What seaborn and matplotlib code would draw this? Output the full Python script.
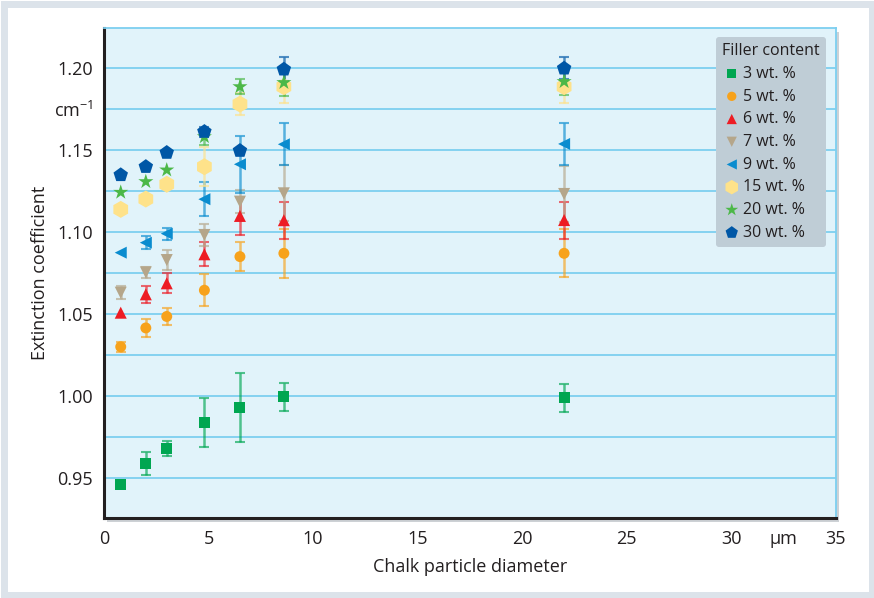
import matplotlib
matplotlib.use("Agg")
import matplotlib.pyplot as plt
from matplotlib import font_manager
from matplotlib.patches import Rectangle
import numpy as np
import pandas as pd
import seaborn as sns

# ---------------- data ----------------
diameter = [0.8, 2.0, 3.0, 4.8, 6.5, 8.6, 22.0]

series_labels = ["3 wt. %", "5 wt. %", "6 wt. %", "7 wt. %", "9 wt. %",
                 "15 wt. %", "20 wt. %", "30 wt. %"]

val_3 = [0.946, 0.959, 0.968, 0.984, 0.993, 0.9995, 0.999]
err_3 = [0.0, 0.007, 0.0045, 0.015, 0.021, 0.0085, 0.0085]
val_5 = [1.030, 1.0415, 1.0485, 1.0645, 1.085, 1.087, 1.087]
err_5 = [0.003, 0.0054, 0.005, 0.0098, 0.0087, 0.015, 0.0146]
val_6 = [1.0508, 1.062, 1.0687, 1.0864, 1.1098, 1.1072, 1.1073]
err_6 = [0.0, 0.005, 0.006, 0.0073, 0.0116, 0.0113, 0.0113]
val_7 = [1.063, 1.0754, 1.0829, 1.0982, 1.1185, 1.1236, 1.1232]
err_7 = [0.004, 0.0034, 0.006, 0.0067, 0.007, 0.017, 0.017]
val_9 = [1.0874, 1.0935, 1.099, 1.120, 1.1413, 1.1535, 1.1537]
err_9 = [0.0, 0.0039, 0.0037, 0.0103, 0.0174, 0.0128, 0.0126]
val_15 = [1.1138, 1.1201, 1.1291, 1.1398, 1.178, 1.1886, 1.1886]
err_15 = [0.0, 0.0, 0.0, 0.012, 0.0067, 0.0098, 0.0098]
val_20 = [1.1242, 1.1307, 1.1378, 1.1581, 1.1886, 1.1911, 1.1917]
err_20 = [0.0, 0.0, 0.0, 0.005, 0.0045, 0.008, 0.0083]
val_30 = [1.1348, 1.1398, 1.1484, 1.1612, 1.1496, 1.1992, 1.1998]
err_30 = [0.0, 0.0, 0.0, 0.003, 0.0, 0.0073, 0.0067]

x_ticks = [0, 5, 10, 15, 20, 25, 30, 32.5, 35]
x_ticklabels = ["0", "5", "10", "15", "20", "25", "30", "µm", "35"]
y_ticks = [0.95, 1.00, 1.05, 1.10, 1.15, 1.175, 1.20]
y_ticklabels = ["0.95", "1.00", "1.05", "1.10", "1.15", "cm$^{-1}$", "1.20"]
y_minor = [0.975, 1.025, 1.075, 1.125]

values = [val_3, val_5, val_6, val_7, val_9, val_15, val_20, val_30]
errors = [err_3, err_5, err_6, err_7, err_9, err_15, err_20, err_30]

colors = ["#00a651", "#f7a21b", "#ed1c24", "#b5a68a", "#0a8ccf",
          "#fee28a", "#4cb848", "#0057a6"]
markers = ["s", "o", "^", "v", "<", "h", "*", "p"]
msizes = [64, 62, 75, 75, 75, 150, 130, 120]

rows = []
for lab, vals, errs in zip(series_labels, values, errors):
    for d, v, e in zip(diameter, vals, errs):
        rows.append({"diameter": d, "value": v, "err": e, "series": lab})
df = pd.DataFrame(rows)

# ---------------- style ----------------
sns.set_theme(style="white")
avail = {f.name for f in font_manager.fontManager.ttflist}
fam = [f for f in ["Liberation Sans Narrow", "Open Sans", "DejaVu Sans"] if f in avail]
plt.rcParams["font.family"] = fam + ["DejaVu Sans"]
plt.rcParams["mathtext.fontset"] = "custom"
plt.rcParams["mathtext.rm"] = fam[0]

W, H = 874, 598
fig = plt.figure(figsize=(W / 100, H / 100), dpi=100)
fig.patch.set_facecolor("white")

# outer frame
fig.patches.append(Rectangle((3.5 / W, 3.5 / H), 1 - 5.5 / W, 1 - 7 / H,
                             transform=fig.transFigure, fill=False,
                             edgecolor="#dce3ea", linewidth=5.0, zorder=-2))

l, r, t, b = 104, 836, 28, 518
ax = fig.add_axes([l / W, 1 - b / H, (r - l) / W, (b - t) / H])
ax.set_zorder(2)

# shadow behind the plot area
fig.patches.append(Rectangle(((l + 3) / W, 1 - (b + 4) / H), (r - l) / W, (b - t) / H,
                             transform=fig.transFigure, facecolor="#b9bec4",
                             edgecolor="none", alpha=0.7, zorder=-1))

ax.set_facecolor("#e1f3fa")

grid_c = "#7dcff0"
for lab, col, mk, ms in zip(series_labels, colors, markers, msizes):
    sub = df[df["series"] == lab]
    has = sub[sub["err"] > 0]
    ax.errorbar(has["diameter"], has["value"], yerr=has["err"], fmt="none",
                ecolor=col, alpha=0.65, elinewidth=1.8, capsize=3.5,
                capthick=1.5, zorder=3)
    sns.scatterplot(data=sub, x="diameter", y="value", ax=ax, color=col,
                    marker=mk, s=ms, edgecolor="none", linewidth=0,
                    label=lab, zorder=4)

ax.set_xlim(0, 35)
ax.set_ylim(0.9256, 1.2244)

ax.set_xticks(x_ticks)
ax.set_xticklabels(x_ticklabels)
ax.set_yticks(y_ticks)
ax.set_yticklabels(y_ticklabels)
ax.set_yticks(y_minor, minor=True)

ax.grid(False)
ax.yaxis.grid(True, which="both", color=grid_c, linewidth=1.3, zorder=1)
ax.set_axisbelow(True)

ax.tick_params(axis="x", which="major", direction="in", length=5, width=1,
               color=grid_c, labelsize=13, pad=9, labelcolor="#231f20")
ax.tick_params(axis="y", which="both", length=0, labelsize=13, pad=8,
               labelcolor="#231f20")
for tk in ax.xaxis.get_major_ticks():
    if tk.get_loc() in (0, 35, 32.5):
        tk.tick1line.set_visible(False)

for side in ["left", "bottom"]:
    ax.spines[side].set_color("#231f20")
    ax.spines[side].set_linewidth(2.2)
for side in ["top", "right"]:
    ax.spines[side].set_color(grid_c)
    ax.spines[side].set_linewidth(1.3)

ax.set_xlabel("Chalk particle diameter", fontsize=13, color="#231f20", labelpad=7)
ax.set_ylabel("Extinction coefficient", fontsize=13, color="#231f20", labelpad=3)

leg = ax.legend(title="Filler content", loc="upper right",
                bbox_to_anchor=(0.9975, 0.9985), frameon=True, fontsize=11.5,
                title_fontsize=11.5, labelspacing=0.42, handletextpad=0.1,
                handlelength=1.2, borderpad=0.4, fancybox=True,
                markerscale=0.85)
leg._legend_box.align = "left"
frame = leg.get_frame()
frame.set_facecolor("#bfcdd6")
frame.set_edgecolor("none")
frame.set_alpha(1)
for txt in leg.get_texts():
    txt.set_color("#231f20")
leg.get_title().set_color("#231f20")

fig.savefig("out.png", dpi=100, facecolor=fig.get_facecolor())
